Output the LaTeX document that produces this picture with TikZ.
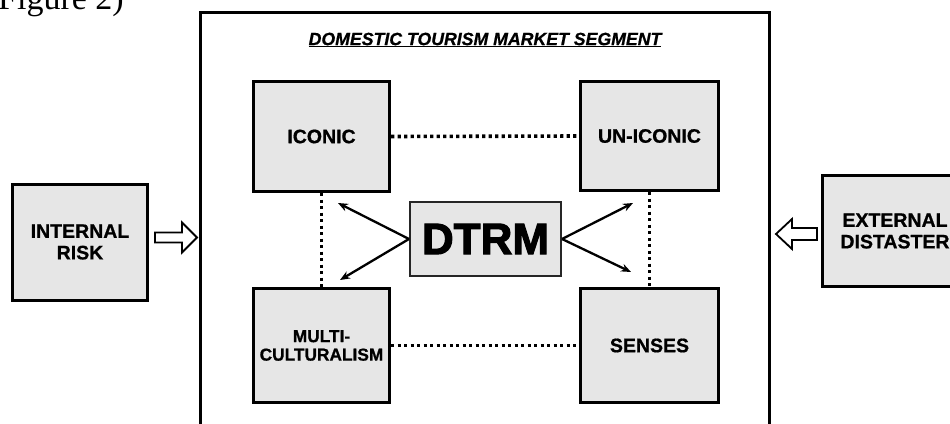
\documentclass[tikz,border=0pt]{standalone}
\usepackage{fontspec}
\setmainfont{Liberation Sans}
\newfontfamily\captionserif{Liberation Serif}
\newfontfamily\labelfont[FakeBold=0.8]{Liberation Sans Bold}
\newfontfamily\heavyfont[FakeBold=2.5]{Liberation Sans Bold}
\usetikzlibrary{arrows.meta}
\definecolor{boxgray}{HTML}{E6E6E6}
\begin{document}
\begin{tikzpicture}[x=1pt,y=-1pt,
  box/.style={draw=black, line width=3pt, fill=boxgray, inner sep=0pt,
    align=center, font=\labelfont\fontsize{19.5}{21.5}\selectfont},
  hub/.style={draw=black!85, line width=2pt, fill=boxgray, inner sep=0pt,
    font=\heavyfont\fontsize{44}{44}\selectfont},
  link/.style={line width=3.6pt, dash pattern=on 3.4pt off 3.1pt},
  spoke/.style={line width=2.3pt, -{Stealth[length=10pt,width=8pt]}},
  hollow/.style={draw=black, line width=1.8pt, fill=white, line join=miter}
]
\useasboundingbox (0,0) rectangle (950,423);
\clip (0,0) rectangle (950,423);

% caption fragment above the figure
\node[anchor=base west, inner sep=0pt, font=\captionserif\fontsize{34}{34}\selectfont]
  (cap) at (-2,9.5) {Figure 2)};

% open-bottomed frame of the market segment
\draw[line width=3pt] (200,440) -- (200,12) -- (769,12) -- (769,440);
\node[font=\labelfont\fontsize{17.7}{17.7}\selectfont\itshape, inner sep=0pt]
  (title) at (485,40) {\underline{\textit{DOMESTIC TOURISM MARKET SEGMENT}}};

% four segment boxes
\node[box, minimum width=136pt, minimum height=110pt] (iconic) at (321.5,136.5) {ICONIC};
\node[box, minimum width=138pt, minimum height=109pt] (uniconic) at (649.5,136) {UN-ICONIC};
\node[box, minimum width=136pt, minimum height=114pt,
      font=\labelfont\fontsize{17.3}{18.5}\selectfont] (multi) at (321.5,345.5) {MULTI-\\CULTURALISM};
\node[box, minimum width=138pt, minimum height=114pt] (senses) at (649.5,345.5) {SENSES};

% central hub
\node[hub, minimum width=151pt, minimum height=74pt] (dtrm) at (485.5,239) {DTRM};

% outside influences
\node[box, minimum width=135pt, minimum height=116pt] (internal) at (80,242) {INTERNAL\\RISK};
\node[box, minimum width=145pt, minimum height=111pt] (external) at (895,231) {EXTERNAL\\DISTASTER};

% dotted links between segments
\draw[link] (iconic.east) -- (uniconic.west);
\draw[link] (multi.east |- senses.west) -- (senses.west);
\draw[link] (iconic.south) -- (multi.north);
\draw[link] (uniconic.south) -- (senses.north);

% spokes from the hub
\coordinate (tl) at (338,203);
\coordinate (bl) at (340,280);
\coordinate (tr) at (633,203);
\coordinate (br) at (631,272);
\draw[spoke] (dtrm.west) -- (tl);
\draw[spoke] (dtrm.west) -- (bl);
\draw[spoke] (dtrm.east) -- (tr);
\draw[spoke] (dtrm.east) -- (br);

% hollow block arrows into the frame
\draw[hollow] (155,232.5) -- (182,232.5) -- (182,222.5) -- (197,237.5)
  -- (182,252.5) -- (182,242.5) -- (155,242.5) -- cycle;
\draw[hollow] (817,228) -- (792,228) -- (792,219) -- (776,234)
  -- (792,249) -- (792,240) -- (817,240) -- cycle;
\end{tikzpicture}
\end{document}
